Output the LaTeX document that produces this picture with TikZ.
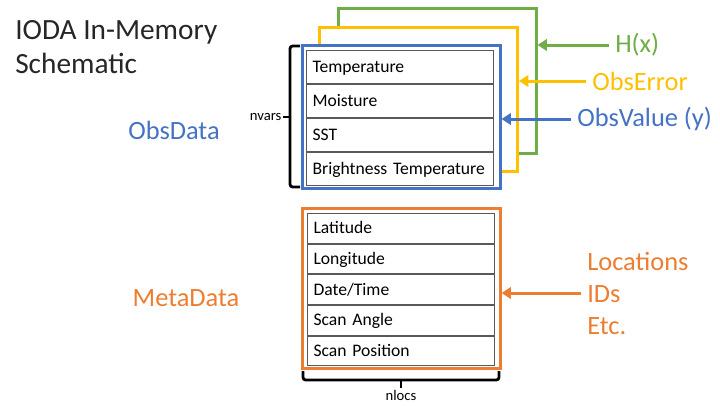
\documentclass[tikz,border=0pt]{standalone}
\usepackage{fontspec}
\setmainfont{Carlito}
\usepackage{xcolor}
\usetikzlibrary{positioning,arrows.meta}

\definecolor{valblue}{HTML}{4472C4}
\definecolor{errgold}{HTML}{FFC000}
\definecolor{hxgreen}{HTML}{70AD47}
\definecolor{metaorange}{HTML}{ED7D31}

\begin{document}
\begin{tikzpicture}[x=0.75pt,y=-0.75pt,
    frame/.style={draw=#1, line width=2.25pt, fill=white, minimum width=148.5pt, inner sep=0pt},
    cell/.style={draw=black!65, line width=0.8pt, fill=white, minimum height=#1, text width=131.25pt,
        text height=10pt, text depth=2pt, inner xsep=4.5pt, inner ysep=0pt, align=left,
        font=\fontsize{13.2}{15}\selectfont},
    lab/.style={text=#1, font=\fontsize{19.8}{24}\selectfont, inner xsep=4.5pt, inner ysep=0pt, align=left},
    feed/.style={draw=#1, line width=2.25pt, -{Triangle[length=7pt,width=8.5pt]}},
    bracket/.style={draw, line width=2.1pt, rounded corners=2pt}]
    \useasboundingbox (0,0) rectangle (720,405);

    \node[anchor=north west, align=left, inner sep=0pt, text=black!85,
        font=\fontsize{22}{25.5}\selectfont] (title) at (15,20) {IODA In-Memory\\Schematic};

    % stacked obs frames
    \node[frame=hxgreen, minimum height=108.75pt] (hofx) at (437,80.5) {};
    \node[frame=errgold, minimum height=108pt] (obserr) at (418.5,99) {};
    \node[frame=valblue, minimum height=107.25pt] (obsval) at (401,116.5) {};

    \node[cell=24.75pt, anchor=north west] (temp) at (306,50) {Temperature};
    \node[cell=24.75pt, below=0pt of temp] (moist) {Moisture};
    \node[cell=24.75pt, below=0pt of moist] (sst) {SST};
    \node[cell=24.75pt, below=0pt of sst] (btemp) {Brightness Temperature};

    \node[lab=valblue] (obsdata) at (174,130) {ObsData};

    \node[lab=hxgreen, anchor=west] (hxlab) at (609,45) {H(x)};
    \node[lab=errgold, anchor=west] (errlab) at (586,81) {ObsError};
    \node[lab=valblue, anchor=west] (vallab) at (571,119) {ObsValue (y)};
    \draw[feed=hxgreen] (hxlab.west) -- (hxlab.west -| hofx.east);
    \draw[feed=errgold] (errlab.west) -- (errlab.west -| obserr.east);
    \draw[feed=valblue] (vallab.west) -- (vallab.west -| obsval.east);

    \node[anchor=east, inner sep=1pt, font=\fontsize{11}{12}\selectfont] (nvars) at (283,117) {nvars};
    \draw[bracket] (300,46) -- (290,46) -- (290,187) -- (300,187);
    \draw[line width=2.1pt] (290,117) -- (nvars.east);

    % metadata
    \node[frame=metaorange, minimum height=120pt] (meta) at (401,288) {};
    \node[cell=22.2pt, anchor=north west] (lat) at (307,213) {Latitude};
    \node[cell=22.2pt, below=0pt of lat] (lon) {Longitude};
    \node[cell=22.2pt, below=0pt of lon] (dtime) {Date/Time};
    \node[cell=22.2pt, below=0pt of dtime] (angle) {Scan Angle};
    \node[cell=22.2pt, below=0pt of angle] (pos) {Scan Position};

    \node[lab=metaorange] (metadata) at (186,298) {MetaData};
    \node[lab=metaorange, anchor=west] (locs) at (581,293) {Locations\\IDs\\Etc.};
    \draw[feed=metaorange] (locs.west) -- (locs.west -| meta.east);

    \node[inner sep=1pt, font=\fontsize{11}{12}\selectfont] (nlocs) at (401,395) {nlocs};
    \draw[bracket] (303,371) -- (303,380) -- (499,380) -- (499,371);
    \draw[line width=2.1pt] (401,380) -- (nlocs.north);
\end{tikzpicture}
\end{document}
